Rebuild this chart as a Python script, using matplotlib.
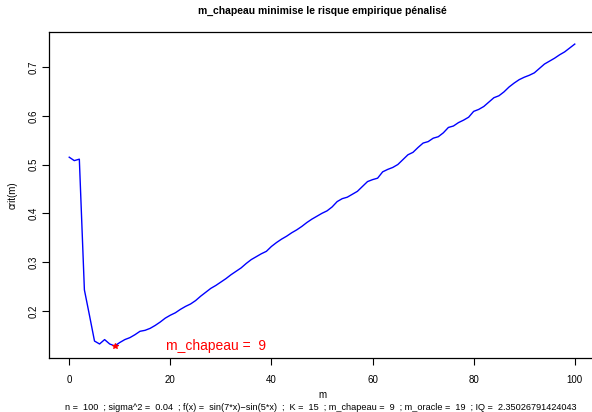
import matplotlib
matplotlib.use("Agg")
import matplotlib.pyplot as plt
import numpy as np

plt.rcParams['font.family'] = ['Liberation Sans', 'DejaVu Sans']

# penalised empirical risk for each model size m = 0..100
m_values = list(range(0, 101))
crit = [
    0.515, 0.508, 0.511, 0.243, 0.191, 0.138, 0.132, 0.141, 0.132, 0.128,
    0.135, 0.141, 0.145, 0.151, 0.158, 0.160, 0.164, 0.170, 0.177, 0.185,
    0.191, 0.196, 0.203, 0.209, 0.214, 0.221, 0.230, 0.238, 0.246, 0.252,
    0.259, 0.266, 0.274, 0.281, 0.288, 0.297, 0.305, 0.311, 0.317, 0.322,
    0.332, 0.340, 0.347, 0.353, 0.360, 0.366, 0.373, 0.381, 0.388, 0.394,
    0.400, 0.405, 0.413, 0.424, 0.430, 0.433, 0.439, 0.445, 0.455, 0.465,
    0.469, 0.472, 0.485, 0.490, 0.494, 0.500, 0.510, 0.520, 0.525, 0.535,
    0.544, 0.547, 0.554, 0.557, 0.565, 0.576, 0.579, 0.586, 0.591, 0.597,
    0.609, 0.613, 0.619, 0.628, 0.637, 0.641, 0.649, 0.659, 0.667, 0.674,
    0.679, 0.683, 0.688, 0.697, 0.706, 0.712, 0.718, 0.725, 0.731, 0.739,
    0.747,
]
m_chapeau = 9
subtitle = ("n =  100  ; sigma^2 =  0.04  ; f(x) =  sin(7*x)\u2212sin(5*x)  ;  K =  15  ; "
            "m_chapeau =  9  ; m_oracle =  19  ; IQ =  2.35026791424043")
x_ticks = [0, 20, 40, 60, 80, 100]
y_ticks = [0.2, 0.3, 0.4, 0.5, 0.6, 0.7]

fig = plt.figure(figsize=(5.92, 4.12), dpi=100)
ax = fig.add_axes([49 / 592, 1 - 358 / 412, 546 / 592, 326 / 412])

ax.plot(m_values, crit, color='#0000ff', lw=1.0)
ax.plot(m_chapeau, crit[m_chapeau], marker='*', color='#ff0000', ms=4, mew=0.8)
ax.text(m_chapeau + 20, crit[m_chapeau], "m_chapeau =  %d" % m_chapeau,
        color='#ff0000', fontsize=10, ha='center', va='center')

# R-style 4% padding around the data range
xr = max(m_values) - min(m_values)
ax.set_xlim(min(m_values) - 0.04 * xr, max(m_values) + 0.04 * xr)
yr = max(crit) - min(crit)
ax.set_ylim(min(crit) - 0.04 * yr, max(crit) + 0.04 * yr)

ax.set_xticks(x_ticks)
ax.set_xticklabels([str(t) for t in x_ticks])
ax.set_yticks(y_ticks)
ax.set_yticklabels([str(t) for t in y_ticks], rotation=90, va='center')
ax.tick_params(direction='out', length=5, width=0.8, labelsize=7)
ax.tick_params(axis='x', pad=7)
ax.tick_params(axis='y', pad=2.5)
for s in ax.spines.values():
    s.set_linewidth(0.9)

ax.set_title("m_chapeau minimise le risque empirique pénalisé",
             fontsize=7.5, fontweight='bold', pad=13)
fig.text(322 / 592, 1 - 395 / 412, "m", fontsize=7, ha='center', va='center')
fig.text(321 / 592, 1 - 407 / 412, subtitle, fontsize=6.6, ha='center', va='center')
fig.text(13 / 592, 1 - 195 / 412, "crit(m)", fontsize=7, rotation=90,
         ha='center', va='center')

fig.savefig("out.png", dpi=100)
